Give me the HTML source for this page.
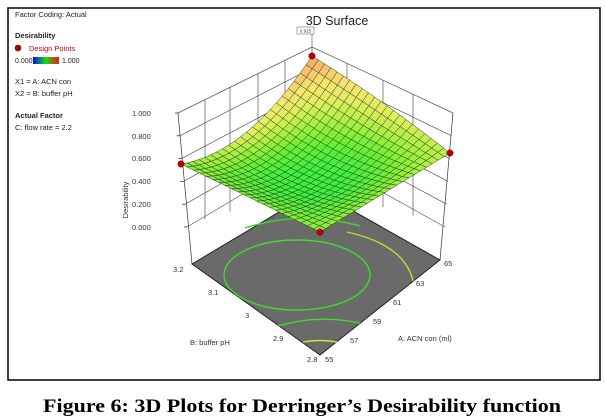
<!DOCTYPE html>
<html><head><meta charset="utf-8"><style>
body{margin:0;background:#fff;width:605px;height:417px;overflow:hidden}
svg{display:block}
</style></head><body>
<svg id="s" width="605" height="417" xmlns="http://www.w3.org/2000/svg" font-family="Liberation Sans, sans-serif">
<rect x="8" y="8" width="592" height="372" fill="#fff" stroke="#000" stroke-width="1.5"/>
<text x="15" y="17" font-size="7.5" fill="#222">Factor Coding: Actual</text>
<text x="15" y="38" font-size="7.5" font-weight="bold" fill="#222">Desirability</text>
<circle cx="18" cy="48" r="3.3" fill="#b00000"/>
<text x="29" y="51" font-size="7.5" fill="#c00">Design Points</text>
<text x="15" y="63" font-size="7" fill="#222">0.000</text>
<defs><linearGradient id="g" x1="0" x2="1"><stop offset="0" stop-color="#0010ff"/><stop offset="0.5" stop-color="#10e010"/><stop offset="1" stop-color="#ff1010"/></linearGradient></defs>
<rect x="33" y="57" width="26" height="7" fill="url(#g)"/>
<text x="62" y="63" font-size="7" fill="#222">1.000</text>
<text x="15" y="84" font-size="7.5" fill="#222">X1 = A: ACN con</text>
<text x="15" y="96" font-size="7.5" fill="#222">X2 = B: buffer pH</text>
<text x="15" y="118" font-size="7.5" font-weight="bold" fill="#222">Actual Factor</text>
<text x="15" y="130" font-size="7.5" fill="#222">C: flow rate = 2.2</text>
<text x="337" y="25" font-size="12.5" text-anchor="middle" fill="#222">3D Surface</text>
<rect x="297" y="27" width="17" height="7" fill="#fff" stroke="#555" stroke-width="0.5"/>
<text x="305.5" y="32.5" font-size="4.5" text-anchor="middle" fill="#333">0.915</text>
<line x1="312" y1="34" x2="312" y2="47" stroke="#666" stroke-width="0.7"/>
<g id="walls" stroke="#555" stroke-width="0.7" fill="none"></g>
<polygon points="192,264 316,190 440,260 320,355" fill="#6a6a6a" stroke="#222" stroke-width="1"/>
<g stroke="#3ddc2a" stroke-width="1.4" fill="none">
<ellipse cx="297" cy="275" rx="73" ry="35"/>
<path d="M278,326 Q318,314 360,323"/>
<path d="M303,342 Q320,339 337,342" stroke="#c8e82a"/>
<path d="M347,232 Q405,245 413,281" stroke="#b8e02a"/>
<path d="M245,228 Q300,210 360,226"/>
</g>
<g id="surf" stroke="#2a2a2a" stroke-width="0.45"></g>
<g fill="#c00000" stroke="#600" stroke-width="0.5">
<circle cx="181" cy="164" r="3.2"/><circle cx="312" cy="56" r="3.2"/><circle cx="450" cy="153" r="3.2"/><circle cx="320" cy="232" r="3.2"/>
</g>
<g font-size="7.5" fill="#333">
<text x="132" y="116">1.000</text><text x="132" y="139">0.800</text><text x="132" y="161">0.600</text>
<text x="132" y="184">0.400</text><text x="132" y="207">0.200</text><text x="132" y="230">0.000</text>
<text transform="translate(128,200) rotate(-90)" text-anchor="middle">Desirability</text>
<text x="173" y="272">3.2</text><text x="208" y="295">3.1</text><text x="245" y="318">3</text>
<text x="273" y="341">2.9</text><text x="307" y="362">2.8</text>
<text x="325" y="362">55</text><text x="350" y="343">57</text><text x="373" y="324">59</text>
<text x="393" y="305">61</text><text x="416" y="286">63</text><text x="444" y="266">65</text>
<text x="190" y="345">B: buffer pH</text><text x="398" y="341">A: ACN con (ml)</text>
</g>
<text x="302" y="412" font-family="Liberation Serif, serif" font-weight="bold" font-size="19" text-anchor="middle" textLength="518" lengthAdjust="spacingAndGlyphs">Figure 6: 3D Plots for Derringer’s Desirability function</text>
</svg>
<script>
var NS="http://www.w3.org/2000/svg";
function el(p,t,a){var e=document.createElementNS(NS,t);for(var k in a)e.setAttribute(k,a[k]);p.appendChild(e);return e;}
var W=document.getElementById("walls");
function Lz(z){return [178+(1-z)*9,113+(1-z)*114];}
function Bz(z){return [312,47+(1-z)*106];}
function Rz(z){return [453-(1-z)*8,113+(1-z)*114];}
el(W,"line",{x1:178,y1:113,x2:192,y2:264,stroke:"#333"});
el(W,"line",{x1:453,y1:113,x2:440,y2:260,stroke:"#333"});
el(W,"line",{x1:312,y1:47,x2:312,y2:190});
for(var i=0;i<=5;i++){var z=i/5,a=Lz(z),b=Bz(z),c=Rz(z);
el(W,"polyline",{points:a+" "+b+" "+c});
el(W,"line",{x1:a[0]-3,y1:a[1],x2:a[0],y2:a[1],stroke:"#111"});}
[205,230,258,285].forEach(function(x){var t=(x-178)/(312-178);el(W,"line",{x1:x,y1:113-66*t,x2:x,y2:227-40*t});});
[347,383,413].forEach(function(x){var t=(453-x)/(453-312);el(W,"line",{x1:x,y1:113-66*t,x2:x,y2:227-40*t});});
var F=[320,232],L=[181,164],R=[450,153],B=[312,56];
function P(u,v){var x=(1-u)*(1-v)*F[0]+u*(1-v)*L[0]+(1-u)*v*R[0]+u*v*B[0];
var y=(1-u)*(1-v)*F[1]+u*(1-v)*L[1]+(1-u)*v*R[1]+u*v*B[1];
y+=4*v*(1-v)*22*u+16*u*(1-u)*v*(1-v)*12-4*u*(1-u)*3*v;return [x,y];}
function Z(u,v){return (1-u)*(1-v)*0.5+u*(1-v)*0.5+(1-u)*v*0.6+u*v*0.95-0.35*16*u*(1-u)*v*(1-v);}
var stops=[[0.3,[60,240,60]],[0.45,[110,240,50]],[0.55,[160,240,60]],[0.7,[220,240,90]],[0.82,[245,230,110]],[0.95,[248,170,100]]];
function col(z){if(z<=stops[0][0])return stops[0][1];for(var i=1;i<stops.length;i++){if(z<=stops[i][0]){var a=stops[i-1],b=stops[i],t=(z-a[0])/(b[0]-a[0]);return a[1].map(function(c,k){return Math.round(c+(b[1][k]-c)*t);});}}return stops[stops.length-1][1];}
var S=document.getElementById("surf"),N=22;
for(var i=N-1;i>=0;i--)for(var j=N-1;j>=0;j--){var u0=i/N,u1=(i+1)/N,v0=j/N,v1=(j+1)/N;
var p=[P(u0,v0),P(u1,v0),P(u1,v1),P(u0,v1)];var c=col(Z((u0+u1)/2,(v0+v1)/2));
el(S,"polygon",{points:p.map(function(q){return q[0].toFixed(1)+","+q[1].toFixed(1);}).join(" "),fill:"rgb("+c+")"});}
</script>
</body></html>
